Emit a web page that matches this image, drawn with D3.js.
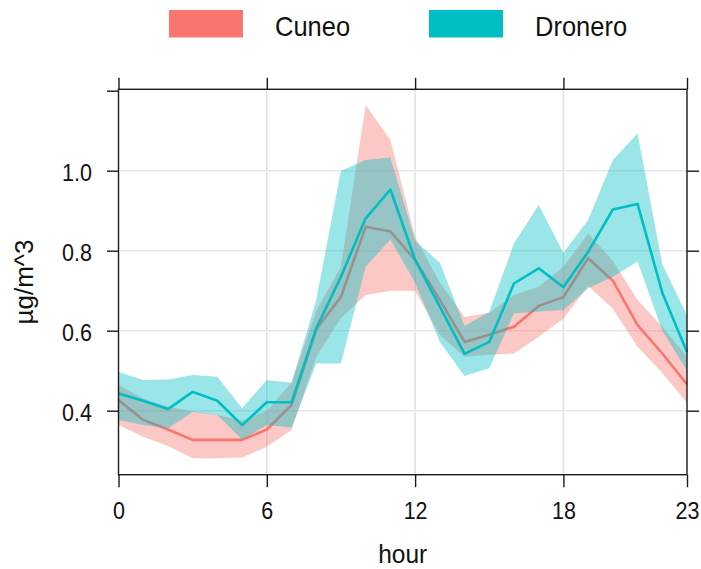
<!DOCTYPE html>
<html>
<head>
<meta charset="utf-8">
<script src="https://cdn.jsdelivr.net/npm/d3@7/dist/d3.min.js"></script>
<style>
  html, body { margin: 0; padding: 0; background: #fff; }
  svg { display: block; font-family: "Liberation Sans", Arial, sans-serif; }
</style>
</head>
<body>
<svg id="chart" width="701" height="569"></svg>
<script>
// ---- data ----
const hours = d3.range(0, 24);
const sites = ["Cuneo", "Dronero"];
const colors = ["#F8766D", "#00BFC4"];

const cuneoMean  = [0.427,0.377,0.353,0.327,0.327,0.327,0.353,0.414,0.604,0.685,0.860,0.848,0.777,0.677,0.572,0.590,0.610,0.662,0.684,0.781,0.725,0.614,0.543,0.466];
const cuneoUpper = [0.465,0.430,0.410,0.398,0.390,0.375,0.400,0.470,0.650,0.760,1.164,1.077,0.835,0.720,0.634,0.645,0.689,0.710,0.760,0.843,0.775,0.677,0.610,0.535];
const cuneoLower = [0.364,0.335,0.312,0.281,0.281,0.283,0.310,0.352,0.535,0.632,0.689,0.700,0.700,0.590,0.535,0.540,0.543,0.585,0.630,0.712,0.655,0.560,0.494,0.420];

const droneroMean  = [0.443,0.425,0.404,0.447,0.425,0.364,0.421,0.421,0.606,0.735,0.881,0.953,0.777,0.660,0.542,0.572,0.718,0.756,0.709,0.797,0.903,0.917,0.695,0.547];
const droneroUpper = [0.497,0.477,0.478,0.489,0.485,0.406,0.477,0.470,0.677,1.000,1.027,1.033,0.825,0.770,0.612,0.647,0.818,0.914,0.795,0.877,1.027,1.093,0.766,0.638];
const droneroLower = [0.377,0.364,0.356,0.397,0.389,0.328,0.364,0.358,0.518,0.518,0.760,0.828,0.720,0.572,0.487,0.506,0.643,0.648,0.652,0.706,0.735,0.773,0.600,0.500];

const xTicks = [0, 6, 12, 18, 23];
const yTicks = [0.4, 0.6, 0.8, 1.0, 1.2];
const yLabelled = [0.4, 0.6, 0.8, 1.0];

// ---- layout ----
const L = 118.5, R = 687, T = 89.3, B = 474.7;
const svg = d3.select("#chart");

const x = d3.scaleLinear().domain([0, 23]).range([L, R]);
const y = d3.scaleLinear().domain([0.24, 1.2035]).range([B, T]);

// grid
const grid = svg.append("g");
grid.selectAll("line.v").data([6, 12, 18]).join("line")
  .attr("x1", d => x(d)).attr("x2", d => x(d)).attr("y1", T).attr("y2", B)
  .attr("stroke", "#e3e3e3").attr("stroke-width", 1.6);
grid.selectAll("line.h").data(yLabelled).join("line")
  .attr("x1", L).attr("x2", R).attr("y1", d => y(d)).attr("y2", d => y(d))
  .attr("stroke", "#e8e8e8").attr("stroke-width", 1.6);

// series
const series = [
  { name: sites[0], color: colors[0], mean: cuneoMean, up: cuneoUpper, lo: cuneoLower },
  { name: sites[1], color: colors[1], mean: droneroMean, up: droneroUpper, lo: droneroLower }
];

const area = d3.area().x(d => x(d.h)).y0(d => y(d.lo)).y1(d => y(d.up));
const line = d3.line().x(d => x(d.h)).y(d => y(d.m));

series.forEach(s => {
  const pts = hours.map((h, i) => ({ h, m: s.mean[i], up: s.up[i], lo: s.lo[i] }));
  svg.append("path").datum(pts).attr("d", area)
    .attr("fill", s.color).attr("fill-opacity", 0.4).attr("stroke", "none");
  svg.append("path").datum(pts).attr("d", line)
    .attr("fill", "none").attr("stroke", s.color).attr("stroke-width", 2.6)
    .attr("stroke-linejoin", "round");
});

// axes
const axisColor = "#1a1a1a";
function styleAxis(g) {
  g.select(".domain").remove();
  g.selectAll(".tick line").attr("stroke", axisColor).attr("stroke-width", 1.4);
  g.selectAll("text").attr("fill", "#111").attr("font-size", 21.5)
    .attr("font-family", "'Liberation Sans', Arial, sans-serif");
}

const gLeft = svg.append("g").attr("transform", `translate(${L},0)`)
  .call(d3.axisLeft(y).tickValues(yTicks).tickSize(11.5)
    .tickFormat(d => yLabelled.includes(d) ? d3.format(".1f")(d) : ""));
styleAxis(gLeft);
gLeft.selectAll("text").attr("x", null).attr("dy", null).attr("y", null)
  .attr("text-anchor", "end")
  .attr("transform", "translate(-26.5,9.3) scale(1,1.14)");

const gRight = svg.append("g").attr("transform", `translate(${R},0)`)
  .call(d3.axisRight(y).tickValues(yLabelled).tickSize(12).tickFormat(""));
styleAxis(gRight);

const gBottom = svg.append("g").attr("transform", `translate(0,${B})`)
  .call(d3.axisBottom(x).tickValues(xTicks).tickSize(12.5).tickFormat(d3.format("d")));
styleAxis(gBottom);
gBottom.selectAll("text").attr("y", null).attr("dy", null)
  .attr("text-anchor", "middle")
  .attr("transform", "translate(0,44.6) scale(1,1.14)");

const gTop = svg.append("g").attr("transform", `translate(0,${T})`)
  .call(d3.axisTop(x).tickValues(xTicks).tickSize(11.5).tickFormat(""));
styleAxis(gTop);

// frame
svg.append("rect").attr("x", L).attr("y", T).attr("width", R - L).attr("height", B - T)
  .attr("fill", "none").attr("stroke", axisColor).attr("stroke-width", 1.4);

// axis titles
svg.append("text").attr("transform", `translate(${(L + R) / 2},563) scale(1,1.06)`)
  .attr("text-anchor", "middle").attr("font-size", 24.5).attr("fill", "#111").text("hour");
svg.append("text").attr("transform", `translate(33,${(T + B) / 2}) rotate(-90)`)
  .attr("text-anchor", "middle").attr("font-size", 26).attr("fill", "#111").text("µg/m^3");

// legend
const legendX = [169, 429];
const leg = svg.append("g");
series.forEach((s, i) => {
  leg.append("rect").attr("x", legendX[i]).attr("y", 10).attr("width", 74).attr("height", 27.5)
    .attr("fill", s.color);
  leg.append("text").attr("transform", `translate(${legendX[i] + 106},36) scale(1,1.12)`)
    .attr("font-size", 25.5).attr("fill", "#111").text(s.name);
});
</script>
</body>
</html>
